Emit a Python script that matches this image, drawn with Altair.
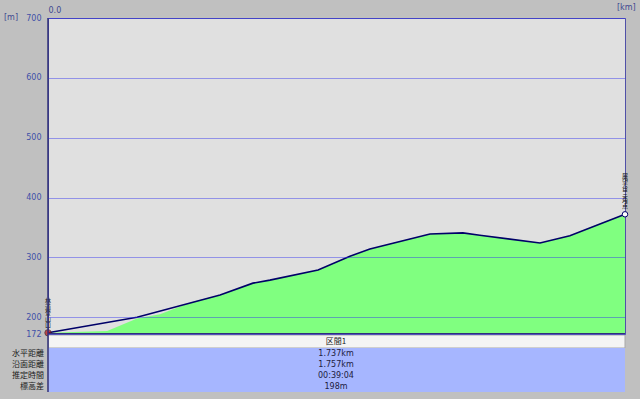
import altair as alt
import pandas as pd

# ---- data ----
profile_km = [0.0, 0.178, 0.268, 0.337, 0.436, 0.518, 0.617, 0.668, 0.813, 0.909,
              0.969, 1.060, 1.150, 1.249, 1.300, 1.391, 1.481, 1.571, 1.662, 1.737]
profile_m = [174, 177, 198, 205, 226, 237, 257, 262, 279, 302,
             314, 327, 339, 341, 337, 331, 324, 336, 357, 372]
route_km = [0.0, 0.268, 0.518, 0.617, 0.668, 0.813, 0.909, 0.969, 1.150, 1.249,
            1.300, 1.481, 1.571, 1.737]
route_m = [174, 200, 237, 257, 262, 279, 302, 314, 339, 341, 337, 324, 336, 372]
y_ticks = [172, 200, 300, 400, 500, 600, 700]
y_domain = [172, 700]
x_domain = [0.0, 1.737]
section_label = "区間1"
row_labels = ["水平距離", "沿面距離", "推定時間", "標高差"]
row_values = ["1.737km", "1.757km", "00:39:04", "198m"]
point_names = ["林道登山口", "展望台三角点"]

W, H = 577, 316
JP = "Noto Sans CJK JP"
NAVY = "#30307a"
LH = 6.0

profile = pd.DataFrame({"km": profile_km, "m": profile_m})
route = pd.DataFrame({"km": route_km, "m": route_m})
ends = pd.DataFrame({"km": [route_km[0], route_km[-1]],
                     "m": [route_m[0], route_m[-1]],
                     "name": ["\n".join(n) for n in point_names],
                     "kind": ["start", "end"]})
one = pd.DataFrame({"a": [0]})

xs = alt.Scale(domain=x_domain, nice=False, zero=False)
ys = alt.Scale(domain=y_domain, nice=False, zero=False)

X = alt.X("km:Q", scale=xs, axis=alt.Axis(
    orient="top", values=[0], format=".1f", domain=False, ticks=False, grid=False,
    labelAlign="left", labelPadding=4, labelFontSize=8, labelColor="#404890",
    labelFont="DejaVu Sans", title=None, labelFlush=False))
Y = alt.Y("m:Q", scale=ys, axis=alt.Axis(
    values=y_ticks, domain=False, ticks=False, grid=True, gridColor="#3434f0",
    gridOpacity=0.45, gridWidth=1, labelFontSize=8, labelColor="#4050a8",
    labelFont="DejaVu Sans", labelPadding=7, labelFlush=False, labelOverlap=False,
    title=None, zindex=1))

area = alt.Chart(profile).mark_area(color="#80ff80", clip=True).encode(x=X, y=Y)
line = alt.Chart(route).mark_line(color="#000068", strokeWidth=1.6).encode(
    x=alt.X("km:Q", scale=xs), y=alt.Y("m:Q", scale=ys))

start_pt = alt.Chart(ends).transform_filter("datum.kind == 'start'").mark_point(
    shape="circle", filled=True, size=40, color="#c01010", stroke="#401010",
    strokeWidth=1).encode(x=alt.X("km:Q", scale=xs), y=alt.Y("m:Q", scale=ys))
end_pt = alt.Chart(ends).transform_filter("datum.kind == 'end'").mark_point(
    shape="circle", filled=True, size=30, fill="white", stroke="#000068",
    strokeWidth=1, opacity=1).encode(x=alt.X("km:Q", scale=xs), y=alt.Y("m:Q", scale=ys))

name_layers = []
for kind, nm in zip(["start", "end"], point_names):
    n = len(nm)
    name_layers.append(
        alt.Chart(ends).transform_filter(f"datum.kind == '{kind}'").mark_text(
            align="center", baseline="top", fontSize=6, lineHeight=LH, lineBreak="\n",
            font=JP, color="#101010", dy=-(n * LH + 5)).encode(
            x=alt.X("km:Q", scale=xs), y=alt.Y("m:Q", scale=ys), text="name:N"))

# frame / table
bottom_rule = alt.Chart(one).mark_rule(color=NAVY, strokeWidth=2).encode(
    x=alt.value(0), x2=alt.value(W), y=alt.value(H))
left_rule = alt.Chart(one).mark_rule(color=NAVY, strokeWidth=1.5).encode(
    x=alt.value(0), y=alt.value(0), y2=alt.value(374))
header = alt.Chart(one).mark_rect(fill="#f4f4f4", stroke="#a8a8a8", strokeWidth=1).encode(
    x=alt.value(0.5), x2=alt.value(W), y=alt.value(317), y2=alt.value(330))
table = alt.Chart(one).mark_rect(fill="#a6b6ff").encode(
    x=alt.value(0.5), x2=alt.value(W), y=alt.value(330), y2=alt.value(374))
header_txt = alt.Chart(pd.DataFrame({"t": [section_label]})).mark_text(
    fontSize=8, font=JP, color="#202020", baseline="middle").encode(
    x=alt.value(288), y=alt.value(324), text="t:N")

layers = [area, line, start_pt, end_pt] + name_layers + [bottom_rule, header, table, header_txt, left_rule]
for i, (lab, val) in enumerate(zip(row_labels, row_values)):
    d = pd.DataFrame({"lab": [lab], "val": [val]})
    yy = 336 + i * 11
    layers.append(alt.Chart(d).mark_text(
        fontSize=8, font=JP, color="#202020", align="right", baseline="middle").encode(
        x=alt.value(-4), y=alt.value(yy), text="lab:N"))
    layers.append(alt.Chart(d).mark_text(
        fontSize=8, font="DejaVu Sans", color="#202040", baseline="middle").encode(
        x=alt.value(288), y=alt.value(yy), text="val:N"))

unit_df = pd.DataFrame({"t": ["[m]", "[km]"]})
layers.append(alt.Chart(unit_df).transform_filter("datum.t == '[m]'").mark_text(
    fontSize=8, font="DejaVu Sans", color="#404890", align="left", baseline="middle").encode(
    x=alt.value(-44), y=alt.value(0), text="t:N"))
layers.append(alt.Chart(unit_df).transform_filter("datum.t == '[km]'").mark_text(
    fontSize=8, font="DejaVu Sans", color="#404890", align="left", baseline="middle").encode(
    x=alt.value(W - 8), y=alt.value(-10), text="t:N"))

chart = alt.layer(*layers).properties(
    width=W, height=H,
    autosize=alt.AutoSizeParams(type="none"),
    padding={"left": 48, "top": 18, "right": 15, "bottom": 65},
    background="#c0c0c0",
).configure_view(fill="#e0e0e0", stroke="#5050a8", strokeWidth=1)

chart.save("out.html", embed_options={"renderer": "svg", "actions": False})
